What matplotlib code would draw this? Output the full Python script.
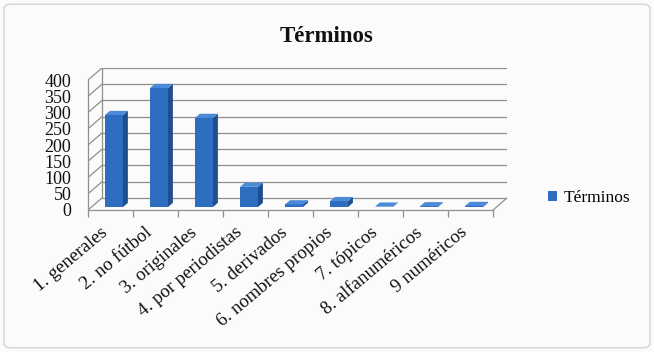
import matplotlib
matplotlib.use("Agg")
import matplotlib.pyplot as plt
from matplotlib.patches import Polygon, Rectangle, Patch, FancyBboxPatch

categories = ["1. generales", "2. no fútbol", "3. originales", "4. por periodistas",
              "5. derivados", "6. nombres propios", "7. tópicos", "8. alfanuméricos",
              "9 numéricos"]
values = [283, 366, 274, 62, 8, 18, 1, 2, 3]
y_ticks = [0, 50, 100, 150, 200, 250, 300, 350, 400]
series_name = "Términos"
title = "Términos"

FONT = ["Liberation Serif", "DejaVu Serif"]
plt.rcParams["font.family"] = FONT

front_c = "#2D6EC1"
side_c = "#1E4E8C"
top_c = "#4A8AD6"
grid_c = "#8f8f8f"

fig = plt.figure(figsize=(6.54, 3.52), dpi=100)
fig.patch.set_facecolor("#fbfbfb")
border = FancyBboxPatch((0.006, 0.012), 0.988, 0.976, boxstyle="round,pad=0,rounding_size=0.012",
                        transform=fig.transFigure, facecolor="none", edgecolor="#d4d4d4",
                        linewidth=1.0)
fig.patches.append(border)

ax = fig.add_axes([88/654, (352-210)/352, (507-88)/654, (210-68)/352])
ax.set_facecolor("none")

n = len(categories)
ymax = y_ticks[-1]
dx = 0.31          # depth offset in category units
dy = 37.0          # depth offset in value units
ax.set_xlim(-0.5, n - 0.5 + dx)
ax.set_ylim(0, ymax + dy)

# back wall grid lines and side wall diagonals
for v in y_ticks:
    ax.plot([-0.5 + dx, n - 0.5 + dx], [v + dy, v + dy], color=grid_c, lw=0.9, zorder=1)
    ax.plot([-0.5, -0.5 + dx], [v, v + dy], color=grid_c, lw=0.9, zorder=1)
# back wall left edge
ax.plot([-0.5 + dx, -0.5 + dx], [dy, ymax + dy], color=grid_c, lw=0.9, zorder=1)
# floor front and right edges
ax.plot([-0.5, n - 0.5], [0, 0], color=grid_c, lw=0.9, zorder=1, clip_on=False)
ax.plot([n - 0.5, n - 0.5 + dx], [0, dy], color=grid_c, lw=0.9, zorder=1)
# front vertical axis line
ax.plot([-0.5, -0.5], [0, ymax], color=grid_c, lw=0.9, zorder=1, clip_on=False)

# 3D bars
w = 0.40
fx, fy = 0.25 * dx, 0.25 * dy
bdx, bdy = 0.35 * dx, 0.35 * dy
for i, v in enumerate(values):
    x1 = i - w / 2 + fx
    x2 = i + w / 2 + fx
    y0 = fy
    y1 = fy + v
    ax.add_patch(Rectangle((x1, y0), w, v, facecolor=front_c, edgecolor="none", zorder=3))
    ax.add_patch(Polygon([(x2, y0), (x2 + bdx, y0 + bdy), (x2 + bdx, y1 + bdy), (x2, y1)],
                         closed=True, facecolor=side_c, edgecolor="none", zorder=3))
    ax.add_patch(Polygon([(x1, y1), (x1 + bdx, y1 + bdy), (x2 + bdx, y1 + bdy), (x2, y1)],
                         closed=True, facecolor=top_c, edgecolor="none", zorder=3))

for s in ax.spines.values():
    s.set_visible(False)

ax.set_yticks(y_ticks)
ax.set_yticklabels([str(t) for t in y_ticks], fontsize=13, color="#111111")
ax.tick_params(axis="y", length=0, pad=12)

ax.set_xticks(range(n))
ax.set_xticklabels(categories, rotation=40, ha="right", fontsize=13.5, color="#111111")
ax.tick_params(axis="x", which="major", length=0, pad=10)
ax.set_xticks([k - 0.5 for k in range(n + 1)], minor=True)
ax.tick_params(axis="x", which="minor", length=5, direction="out", color=grid_c, width=0.9)

fig.text(327/654, 1 - 37/352, title, ha="center", va="center", fontsize=16.5,
         fontweight="bold", color="#111111")

handle = Patch(facecolor=front_c, edgecolor="none")
fig.legend([handle], [series_name], loc="center left", bbox_to_anchor=(541/654, 1 - 198/352),
           frameon=False, fontsize=12.5, handlelength=0.55, handleheight=0.55,
           handletextpad=0.35, borderaxespad=0)

fig.savefig("out.png", dpi=100, facecolor=fig.get_facecolor())
